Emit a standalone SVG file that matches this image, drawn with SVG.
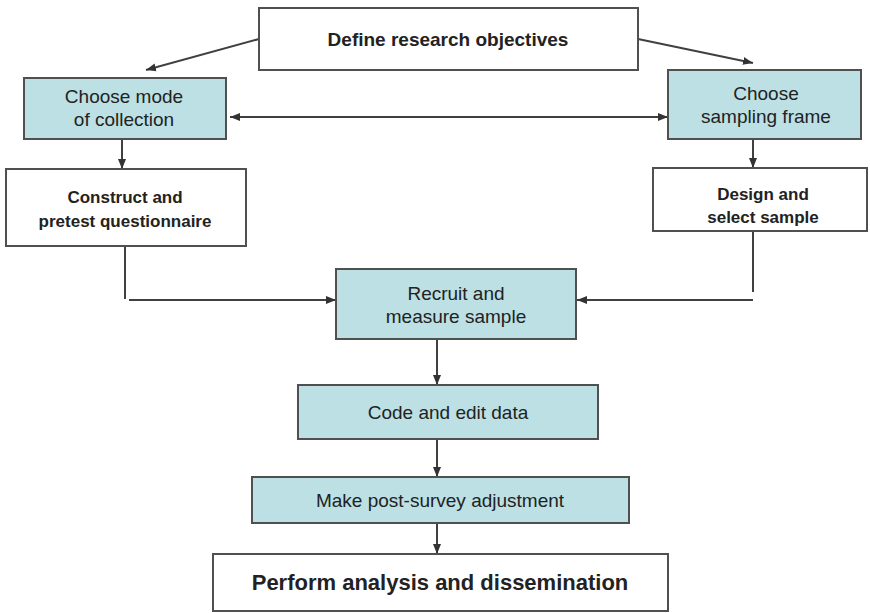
<svg xmlns="http://www.w3.org/2000/svg" width="870" height="613" viewBox="0 0 870 613">
<defs>
<marker id="ah" markerUnits="userSpaceOnUse" markerWidth="10" markerHeight="10" viewBox="0 0 10 10" refX="10" refY="5" orient="auto">
<path d="M0,1 L10,5 L0,9 Z" fill="#333"/>
</marker>
<marker id="ahs" markerUnits="userSpaceOnUse" markerWidth="10" markerHeight="10" viewBox="0 0 10 10" refX="0" refY="5" orient="auto">
<path d="M10,1 L0,5 L10,9 Z" fill="#333"/>
</marker>
</defs>
<style>
.box{fill:#ffffff;stroke:#505050;stroke-width:2}
.teal{fill:#bce0e4;stroke:#505050;stroke-width:2}
.t{font-family:"Liberation Sans",Arial,sans-serif;font-size:19px;fill:#222;text-anchor:middle}
.b{font-weight:bold}
.c{fill:none;stroke:#404040;stroke-width:2}
.a{marker-end:url(#ah)}
</style>
<rect width="870" height="613" fill="#ffffff"/>
<g id="connectors">
<line class="c a" x1="259" y1="39" x2="146" y2="70"/>
<line class="c a" x1="638" y1="39" x2="753" y2="63"/>
<line class="c a" x1="122" y1="139" x2="122" y2="169"/>
<line class="c a" x1="230" y1="117" x2="668" y2="117" style="marker-start:url(#ahs)"/>
<line class="c a" x1="753" y1="139" x2="753" y2="168"/>
<line class="c" x1="125" y1="246" x2="125" y2="299"/>
<line class="c a" x1="129" y1="300" x2="336" y2="300"/>
<line class="c" x1="753" y1="231" x2="753" y2="292"/>
<line class="c a" x1="753" y1="300" x2="577" y2="300"/>
<line class="c a" x1="437" y1="339" x2="437" y2="385"/>
<line class="c a" x1="437" y1="439" x2="437" y2="477"/>
<line class="c a" x1="437" y1="523" x2="437" y2="554"/>
</g>
<g id="define">
<rect class="box" x="259" y="8" width="379" height="62"/>
<text class="t b" x="448" y="46">Define research objectives</text>
</g>
<g id="mode">
<rect class="teal" x="24" y="78" width="202" height="61"/>
<text class="t" x="124" y="103">Choose mode</text>
<text class="t" x="124" y="126">of collection</text>
</g>
<g id="frame">
<rect class="teal" x="668" y="70" width="193" height="69"/>
<text class="t" x="766" y="100">Choose</text>
<text class="t" x="766" y="123">sampling frame</text>
</g>
<g id="construct">
<rect class="box" x="6" y="169" width="240" height="77"/>
<text class="t b" x="125" y="203" style="font-size:17px">Construct and</text>
<text class="t b" x="125" y="227" style="font-size:17px">pretest questionnaire</text>
</g>
<g id="design">
<rect class="box" x="653" y="168" width="214" height="63"/>
<text class="t b" x="763" y="200" style="font-size:17px">Design and</text>
<text class="t b" x="763" y="223" style="font-size:17px">select sample</text>
</g>
<g id="recruit">
<rect class="teal" x="336" y="269" width="240" height="70"/>
<text class="t" x="456" y="300">Recruit and</text>
<text class="t" x="456" y="323">measure sample</text>
</g>
<g id="code">
<rect class="teal" x="298" y="385" width="300" height="54"/>
<text class="t" x="448" y="419">Code and edit data</text>
</g>
<g id="adjust">
<rect class="teal" x="252" y="477" width="377" height="46"/>
<text class="t" x="440" y="507">Make post-survey adjustment</text>
</g>
<g id="perform">
<rect class="box" x="213" y="554" width="455" height="57"/>
<text class="t b" x="440" y="590" style="font-size:22px">Perform analysis and dissemination</text>
</g>
</svg>
